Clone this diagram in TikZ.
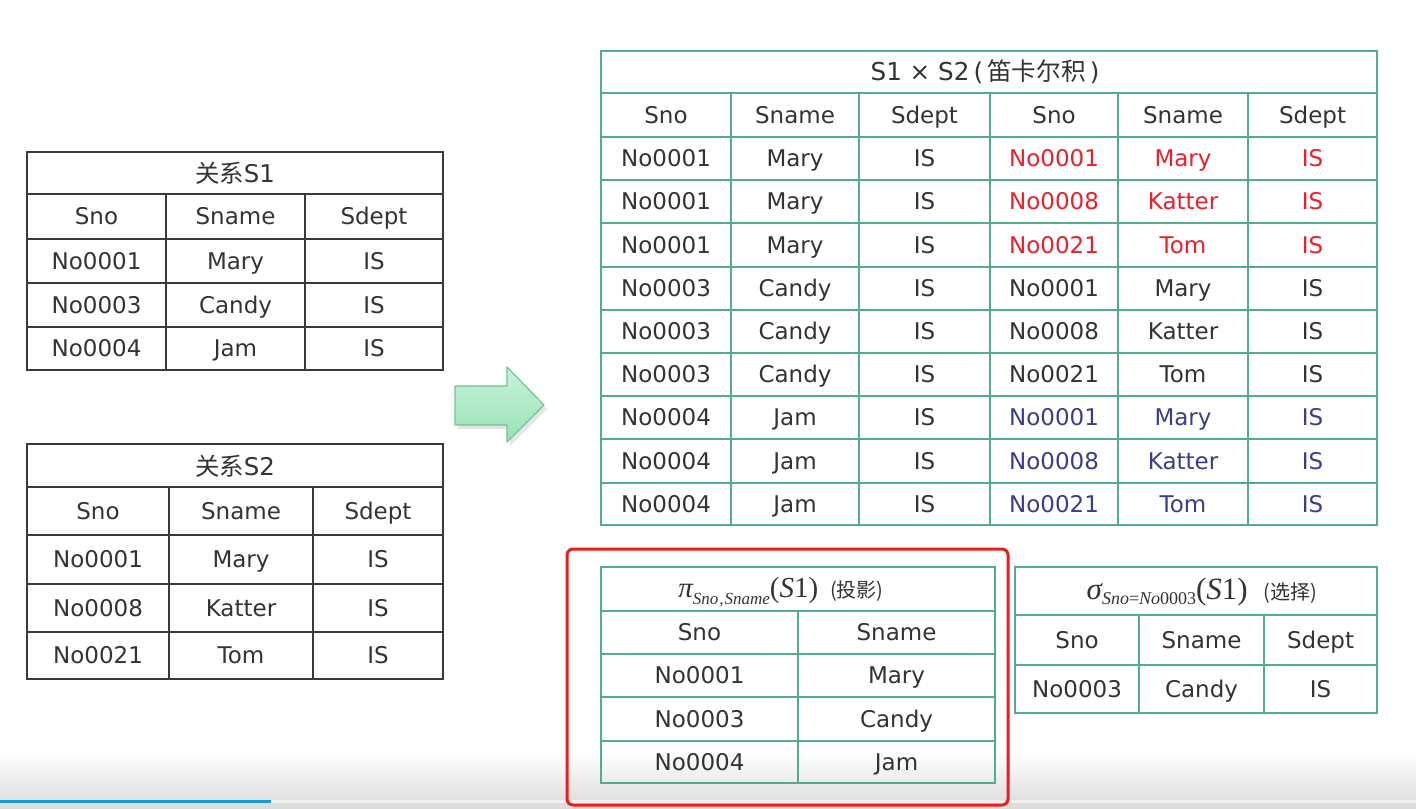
\documentclass[tikz,border=0pt]{standalone}
\usepackage{fontspec}
\setmainfont{DejaVu Sans}
\newfontfamily\cjk{Noto Sans CJK SC}
\newfontfamily\tms{Liberation Serif}
\definecolor{txt}{HTML}{333333}
\definecolor{redt}{HTML}{E8202A}
\definecolor{bluet}{HTML}{3C3C8C}
\definecolor{blkline}{HTML}{3A3A3A}
\definecolor{grnline}{HTML}{52AD8F}
\definecolor{redbox}{HTML}{EE1C1C}
\definecolor{barblue}{HTML}{1A9AD6}
\definecolor{arrtop}{HTML}{C6F3D8}
\definecolor{arrbot}{HTML}{98E2B6}
\definecolor{arredge}{HTML}{74C296}
\begin{document}
\begin{tikzpicture}[x=0.5pt,y=-0.5pt,
  cell/.style={anchor=base, inner sep=0pt, text=txt, font=\fontsize{11.5}{13}\selectfont},
  blk/.style={draw=blkline, line width=1pt},
  grn/.style={draw=grnline, line width=1pt},
  ttl/.style={anchor=base, inner sep=0pt, text=txt}]
\useasboundingbox (0,0) rectangle (1416,808);
\fill[white] (0,0) rectangle (1416,808);
% bottom gradient
\shade[top color=white, bottom color=black!14] (0,750) rectangle (1416,808);
\fill[black!6] (271,800) rectangle (1416,802.5);
\fill[barblue] (0,799.5) rectangle (271,802.5);

% ---------- S1 ----------
\draw[blk] (27,152) rectangle (443,370);
\foreach \y in {194,239,283,327} \draw[blk] (27,\y) -- (443,\y);
\foreach \x in {166,305} \draw[blk] (\x,194) -- (\x,370);
\node[ttl, font=\fontsize{12.2}{14}\selectfont] (s1t) at (235,182) {{\cjk 关系}S1};
\foreach \y/\a/\b/\c [count=\i] in {216.5/Sno/Sname/Sdept, 261/No0001/Mary/IS, 305/No0003/Candy/IS, 348.5/No0004/Jam/IS}{
  \node[cell] (s1-\i-1) at (96.5,\y+8) {\a};
  \node[cell] (s1-\i-2) at (235.5,\y+8) {\b};
  \node[cell] (s1-\i-3) at (374,\y+8) {\c};
}

% ---------- S2 ----------
\draw[blk] (27,444) rectangle (443,679);
\foreach \y in {487,535,584,632} \draw[blk] (27,\y) -- (443,\y);
\foreach \x in {169,313} \draw[blk] (\x,487) -- (\x,679);
\node[ttl, font=\fontsize{12.2}{14}\selectfont] (s2t) at (235,475) {{\cjk 关系}S2};
\foreach \y/\a/\b/\c [count=\i] in {511/Sno/Sname/Sdept, 559.5/No0001/Mary/IS, 608/No0008/Katter/IS, 655.5/No0021/Tom/IS}{
  \node[cell] (s2-\i-1) at (98,\y+8) {\a};
  \node[cell] (s2-\i-2) at (241,\y+8) {\b};
  \node[cell] (s2-\i-3) at (378,\y+8) {\c};
}

% ---------- arrow ----------
\fill[black!10] (458,390) -- (510,390) -- (510,371) -- (547,409) -- (510,446) -- (510,429) -- (458,429) -- cycle;
\shade[top color=arrtop, bottom color=arrbot, draw=arredge, line width=0.6pt, line join=round]
  (455,386) -- (507,386) -- (507,367) -- (544,405) -- (507,442) -- (507,425) -- (455,425) -- cycle;

% ---------- S1 x S2 ----------
\draw[grn] (601,51) rectangle (1377,525);
\foreach \y in {93,137,180,223,267,310,353,396,439,483} \draw[grn] (601,\y) -- (1377,\y);
\foreach \x in {731,859,990,1118,1248} \draw[grn] (\x,93) -- (\x,525);
\node[ttl, font=\fontsize{12.3}{14}\selectfont] (pt) at (985,81) {S1 × S2\,(\,{\cjk 笛卡尔积}\,)};
\foreach \y/\a/\b/\c/\d/\e/\f/\col [count=\i] in {
  115/Sno/Sname/Sdept/Sno/Sname/Sdept/txt,
  158.5/No0001/Mary/IS/No0001/Mary/IS/redt,
  201.5/No0001/Mary/IS/No0008/Katter/IS/redt,
  245/No0001/Mary/IS/No0021/Tom/IS/redt,
  288.5/No0003/Candy/IS/No0001/Mary/IS/txt,
  331.5/No0003/Candy/IS/No0008/Katter/IS/txt,
  374.5/No0003/Candy/IS/No0021/Tom/IS/txt,
  417.5/No0004/Jam/IS/No0001/Mary/IS/bluet,
  461/No0004/Jam/IS/No0008/Katter/IS/bluet,
  504/No0004/Jam/IS/No0021/Tom/IS/bluet}{
  \node[cell] (p-\i-1) at (666,\y+8) {\a};
  \node[cell] (p-\i-2) at (795,\y+8) {\b};
  \node[cell] (p-\i-3) at (924.5,\y+8) {\c};
  \node[cell, text=\col] (p-\i-4) at (1054,\y+8) {\d};
  \node[cell, text=\col] (p-\i-5) at (1183,\y+8) {\e};
  \node[cell, text=\col] (p-\i-6) at (1312.5,\y+8) {\f};
}

% ---------- projection ----------
\draw[redbox, line width=1.5pt, rounded corners=3pt] (567,549) rectangle (1008,805);
\draw[grn] (601,567) rectangle (995,783);
\foreach \y in {611,654,697,741} \draw[grn] (601,\y) -- (995,\y);
\draw[grn] (798,611) -- (798,783);
\node[ttl] (pit) at (781,597) {{\tms\fontsize{14.5}{16}\selectfont\itshape π}\raisebox{-3.5pt}{\tms\itshape\fontsize{8.5}{9}\selectfont Sno\kern0.5pt,\kern0.5pt Sname}{\tms\fontsize{14.5}{16}\selectfont(\textit{S}1)}\hspace{6pt}{\cjk\fontsize{10}{12}\selectfont(投影)}};
\foreach \y/\a/\b [count=\i] in {632.5/Sno/Sname, 675.5/No0001/Mary, 719/No0003/Candy, 762/No0004/Jam}{
  \node[cell] (q-\i-1) at (699.5,\y+8) {\a};
  \node[cell] (q-\i-2) at (896.5,\y+8) {\b};
}

% ---------- selection ----------
\draw[grn] (1015,567) rectangle (1377,713);
\foreach \y in {615,665} \draw[grn] (1015,\y) -- (1377,\y);
\foreach \x in {1139,1264} \draw[grn] (\x,615) -- (\x,713);
\node[ttl] (sgt) at (1202,599) {{\tms\fontsize{15.5}{17}\selectfont\itshape σ}\raisebox{-2.5pt}{\tms\fontsize{9}{10}\selectfont\textit{Sno}=\textit{No}0003}{\tms\fontsize{15.5}{17}\selectfont(\textit{S}1)}\hspace{8pt}{\cjk\fontsize{10}{12}\selectfont(选择)}};
\foreach \y/\a/\b/\c [count=\i] in {640/Sno/Sname/Sdept, 689/No0003/Candy/IS}{
  \node[cell] (r-\i-1) at (1077,\y+8) {\a};
  \node[cell] (r-\i-2) at (1201.5,\y+8) {\b};
  \node[cell] (r-\i-3) at (1320.5,\y+8) {\c};
}
\end{tikzpicture}
\end{document}
